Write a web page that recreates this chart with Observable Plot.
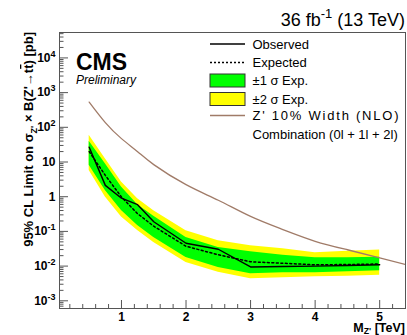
<!DOCTYPE html>
<html><head><meta charset="utf-8">
<script src="https://cdn.jsdelivr.net/npm/d3@7"></script>
<script src="https://cdn.jsdelivr.net/npm/@observablehq/plot@0.6"></script>
<style>
html,body{margin:0;padding:0;background:#fff;}
#chart svg{display:block;}
</style>
</head><body><div id="chart"></div>
<script>
// ---- data ----
const masses     = [0.5, 0.75, 1.0, 1.25, 1.5, 2.0, 2.5, 3.0, 3.5, 4.0, 4.5, 5.0];
const observed   = [26.8, 2.12, 0.905, 0.589, 0.190, 0.0456, 0.0306, 0.00944, 0.0097, 0.0100, 0.0104, 0.0109];
const expected   = [19.9, 4.12, 0.98, 0.324, 0.141, 0.0373, 0.0212, 0.0133, 0.0121, 0.0109, 0.0111, 0.0115];
const sigma1Up   = [39.5, 8.97, 1.91, 0.589, 0.274, 0.067, 0.0345, 0.0260, 0.0206, 0.0174, 0.0174, 0.0180];
const sigma1Down = [8.0, 1.52, 0.403, 0.149, 0.067, 0.0177, 0.00914, 0.00601, 0.00643, 0.00643, 0.00687, 0.00734];
const sigma2Up   = [58.8, 12.5, 2.66, 0.877, 0.395, 0.105, 0.0538, 0.0387, 0.0316, 0.0243, 0.0268, 0.0290];
const sigma2Down = [5.7, 0.98, 0.26, 0.107, 0.048, 0.0127, 0.0066, 0.00432, 0.00461, 0.00493, 0.00509, 0.00544];

const theoryMasses = [0.5, 0.75, 1.0, 1.25, 1.5, 2.0, 2.5, 3.0, 3.5, 4.0, 4.5, 5.0, 5.5];
const theoryXsec   = [533, 137, 47.2, 19.9, 8.4, 2.22, 0.79, 0.27, 0.113, 0.052, 0.0296, 0.0174, 0.0099];

const xMajor = [1, 2, 3, 4, 5];
const xTickLabels = ["1", "2", "3", "4", "5"];
const yMajor = [1e-3, 1e-2, 1e-1, 1, 10, 100, 1e3, 1e4];
const yTickLabels = ["10^-3", "10^-2", "10^-1", "1", "10", "10^2", "10^3", "10^4"];

const legendLabels = ["Observed", "Expected", "\u00b11 \u03c3 Exp.", "\u00b12 \u03c3 Exp.", "Z' 10% Width (NLO)", "Combination (0l + 1l + 2l)"];

// ---- tables ----
const data = masses.map((m, i) => ({
  m, obs: observed[i], exp: expected[i],
  g1lo: sigma1Down[i], g1hi: sigma1Up[i], y2lo: sigma2Down[i], y2hi: sigma2Up[i]
}));
const theoryData = theoryMasses.map((m, i) => ({m, xs: theoryXsec[i]}));

const xMinor = d3.range(1, 28).map(k => +(k * 0.2).toFixed(1)).filter(v => !Number.isInteger(v));
const yMinor = [];
for (let e = -4; e <= 4; e++) for (let k = 2; k <= 9; k++) {
  const v = k * Math.pow(10, e);
  if (v >= 6e-4 && v <= 5.4e4) yMinor.push(v);
}

const font = "'Liberation Sans', Arial, Helvetica, sans-serif";
const W = 407, H = 335, mL = 59, mR = 2, mT = 32, mB = 27;
const innerW = W - mL - mR, innerH = H - mT - mB;
const axisCol = "#555";

const plot = Plot.plot({
  width: W, height: H,
  marginLeft: mL, marginRight: mR, marginTop: mT, marginBottom: mB,
  style: {fontFamily: font, background: "#fff", overflow: "visible", color: "#000"},
  x: {domain: [0.04, 5.4]},
  y: {type: "log", domain: [6e-4, 5.4e4]},
  marks: [
    Plot.areaY(data, {x: "m", y1: "y2lo", y2: "y2hi", fill: "#ffff00"}),
    Plot.areaY(data, {x: "m", y1: "g1lo", y2: "g1hi", fill: "#00ff00"}),
    Plot.line(theoryData, {x: "m", y: "xs", stroke: "#a07b68", strokeWidth: 1.3, curve: "natural", clip: true}),
    Plot.line(data, {x: "m", y: "exp", stroke: "#000", strokeWidth: 1.5, strokeDasharray: "2,2.5"}),
    Plot.line(data, {x: "m", y: "obs", stroke: "#000", strokeWidth: 1.4}),
    Plot.tickX(xMajor, {x: d => d, stroke: axisCol, insetTop: innerH - 8}),
    Plot.tickX(xMinor, {x: d => d, stroke: axisCol, insetTop: innerH - 4}),
    Plot.tickY(yMajor, {y: d => d, stroke: axisCol, insetRight: innerW - 9}),
    Plot.tickY(yMinor, {y: d => d, stroke: axisCol, insetRight: innerW - 4.5}),
    Plot.frame({stroke: axisCol}),
    Plot.axisX({ticks: xMajor, tickSize: 0, tickPadding: 3.5, fontSize: 12, fontWeight: "bold", label: null,
      tickFormat: d => xTickLabels[xMajor.indexOf(d)]}),
    Plot.axisY({ticks: yMajor, tickSize: 0, tickPadding: 4, fontSize: 12, fontWeight: "bold", label: null,
      tickFormat: d => yTickLabels[yMajor.indexOf(d)]})
  ]
});
document.getElementById("chart").appendChild(plot);

const svg = d3.select(plot);
svg.selectAll('g[aria-label="x-axis tick label"], g[aria-label="y-axis tick label"]')
  .attr("font-weight", "bold").attr("font-size", 12);

// superscripts on y tick labels
svg.selectAll('g[aria-label="y-axis tick label"] text').each(function() {
  const t = this.textContent;
  const m = t.match(/^10\^(.+)$/);
  if (m) {
    this.textContent = "";
    const s = d3.select(this);
    s.append("tspan").text("10");
    s.append("tspan").attr("dy", -5).attr("font-size", 9).text(m[1]);
  }
});

function rich(sel, parts, size, subShift = 0.28) {
  let shift = 0;
  parts.forEach(p => {
    const ts = sel.append("tspan").text(p.t);
    let target = 0, fs = size;
    if (p.sup) { target = -0.42 * size; fs = size * 0.72; }
    if (p.sub) { target = subShift * size; fs = size * 0.7; }
    if (target !== shift) { ts.attr("dy", target - shift); shift = target; }
    if (fs !== size) ts.attr("font-size", fs);
    if (p.over) ts.style("text-decoration", "overline");
  });
}

const g = svg.append("g").attr("font-family", font).attr("fill", "#000").attr("text-anchor", "start");

// top-right lumi label
rich(g.append("text").attr("x", 405).attr("y", 26).attr("text-anchor", "end").attr("font-size", 18),
  [{t: "36 fb"}, {t: "-1", sup: true}, {t: " (13 TeV)"}], 18);

// CMS / Preliminary
g.append("text").attr("x", 76).attr("y", 70).attr("font-size", 23).attr("font-weight", "bold").text("CMS");
g.append("text").attr("x", 76).attr("y", 84).attr("font-size", 12).attr("font-style", "italic").text("Preliminary");

// axis titles
rich(g.append("text").attr("transform", "translate(33,32) rotate(-90)").attr("text-anchor", "end")
  .attr("font-size", 13).attr("font-weight", "bold"),
  [{t: "95% CL Limit on \u03c3"}, {t: "Z'", sub: true}, {t: " \u00d7 B(Z'\u2192t"}, {t: "t", over: true}, {t: ") [pb]"}], 13);

rich(g.append("text").attr("x", 405).attr("y", 332).attr("text-anchor", "end")
  .attr("font-size", 12.5).attr("font-weight", "bold"),
  [{t: "M"}, {t: "Z'", sub: true}, {t: " [TeV]"}], 12.5, 0.12);

// legend
const lx0 = 210, lx1 = 245, tx = 252.5;
const rows = [44, 62.5, 80.5, 99, 115.5, 134];
g.append("line").attr("x1", lx0).attr("x2", lx1).attr("y1", rows[0]).attr("y2", rows[0]).attr("stroke", "#000").attr("stroke-width", 1.4);
g.append("line").attr("x1", lx0).attr("x2", lx1).attr("y1", rows[1]).attr("y2", rows[1]).attr("stroke", "#000").attr("stroke-width", 1.4).attr("stroke-dasharray", "2,2");
g.append("rect").attr("x", lx0).attr("y", 74).attr("width", lx1 - lx0).attr("height", 13).attr("fill", "#00ff00").attr("stroke", "#333");
g.append("rect").attr("x", lx0).attr("y", 92.5).attr("width", lx1 - lx0).attr("height", 13).attr("fill", "#ffff00").attr("stroke", "#333");
g.append("line").attr("x1", lx0).attr("x2", lx1).attr("y1", rows[4]).attr("y2", rows[4]).attr("stroke", "#a07b68").attr("stroke-width", 1.3);
legendLabels.forEach((lab, i) => {
  const t = g.append("text").attr("x", tx).attr("y", rows[i] + 4.5).attr("font-size", 13).text(lab);
  if (i === 4) t.attr("textLength", 146).attr("lengthAdjust", "spacing");
});
</script>
</body></html>
